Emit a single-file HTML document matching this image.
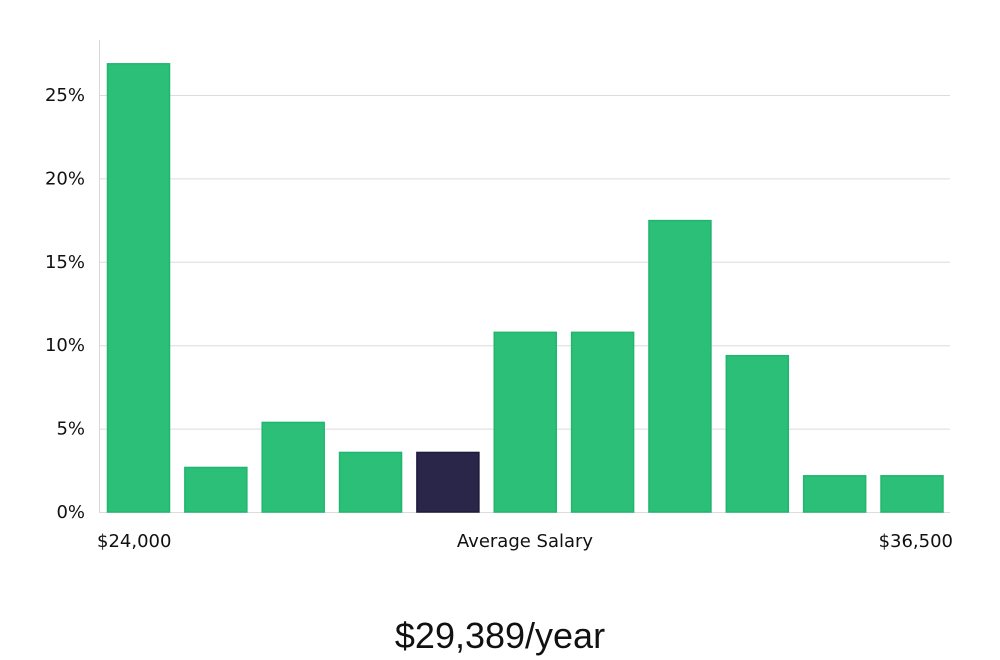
<!DOCTYPE html>
<html><head><meta charset="utf-8"><style>
html,body{margin:0;padding:0;background:#fff;width:1000px;height:660px;overflow:hidden}
text{font-family:"DejaVu Sans","Liberation Sans",sans-serif}
</style></head><body>
<svg id="chart" width="1000" height="660" xmlns="http://www.w3.org/2000/svg">
<g id="grid"></g>
<g id="bars"></g>
<g id="yticks"></g>
<line x1="99.5" y1="40" x2="99.5" y2="512" stroke="#d8d8d8" stroke-width="1"/>
<text x="97" y="547" font-size="18" fill="#111">$24,000</text>
<text x="525" y="547" font-size="18" fill="#111" text-anchor="middle">Average Salary</text>
<text x="953" y="547" font-size="18" fill="#111" text-anchor="end">$36,500</text>
<text x="500" y="648" font-size="36" fill="#111" text-anchor="middle" style="font-family:'Liberation Sans',sans-serif;font-weight:300">$29,389/year</text>
</svg>
<script>
const values = [26.9, 2.7, 5.4, 3.6, 3.6, 10.8, 10.8, 17.5, 9.4, 2.2, 2.2];
const highlightIndex = 4;
const yTicks = [0, 5, 10, 15, 20, 25];
const yTickLabels = ["0%", "5%", "10%", "15%", "20%", "25%"];
const NS = "http://www.w3.org/2000/svg";
const x0 = 99, x1 = 950, yBase = 512, pxPerUnit = 16.68;
const y = v => yBase - v * pxPerUnit;
const pitch = 77.35, barW = 63, barStart = 107;
const xb = i => barStart + i * pitch;
const grid = document.getElementById('grid');
const yt = document.getElementById('yticks');
yTicks.forEach((t, k) => {
  const l = document.createElementNS(NS, 'line');
  
  
  l.setAttribute('x1', x0); l.setAttribute('x2', x1);
  l.setAttribute('y1', y(t) + 0.5); l.setAttribute('y2', y(t) + 0.5);
  l.setAttribute('stroke', '#dcdcdc');
  grid.appendChild(l);
  const tx = document.createElementNS(NS, 'text');
  
  
  tx.setAttribute('x', 85); tx.setAttribute('y', y(t) + 6);
  tx.setAttribute('text-anchor', 'end');
  tx.setAttribute('font-size', '18');
  tx.setAttribute('fill', '#111');
  tx.textContent = yTickLabels[k];
  yt.appendChild(tx);
});
const bars = document.getElementById('bars');
values.forEach((v, i) => {
  const r = document.createElementNS(NS, 'rect');
  
  
  r.setAttribute('x', xb(i) + 0.5);
  r.setAttribute('y', y(v) + 0.5);
  r.setAttribute('width', barW - 1);
  r.setAttribute('height', v * pxPerUnit - 0.5);
  r.setAttribute('fill', i === highlightIndex ? '#29264a' : '#2bbf78');
  r.setAttribute('stroke', i === highlightIndex ? '#1e1b3c' : '#22b56f');
  r.setAttribute('stroke-width', '1.5');
  bars.appendChild(r);
});
</script>
</body></html>
